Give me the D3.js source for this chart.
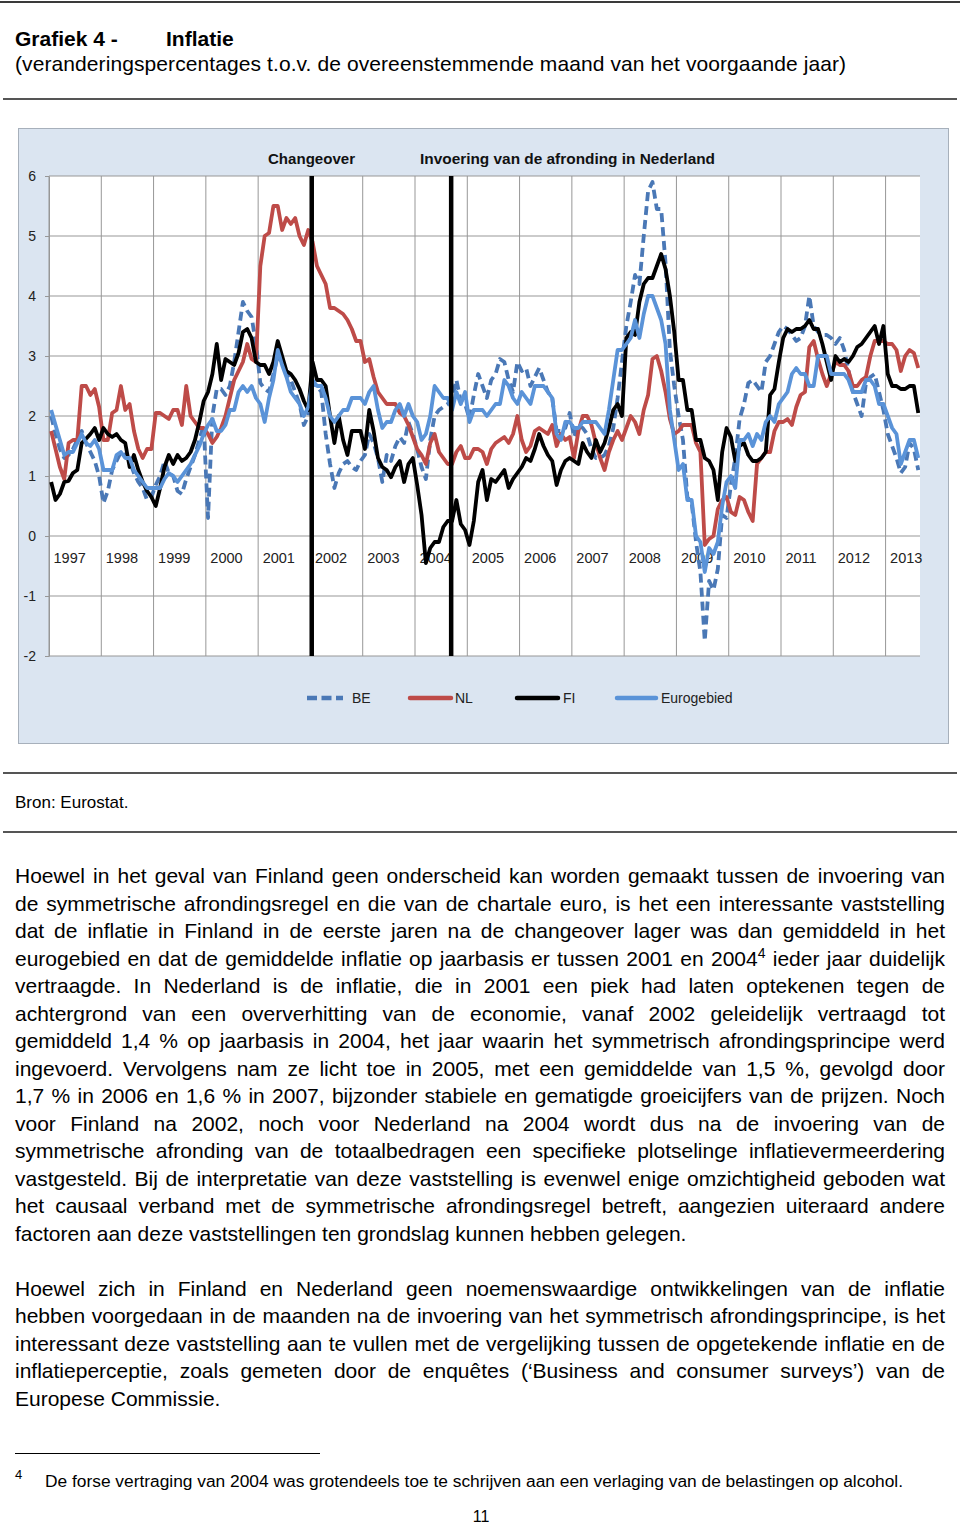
<!DOCTYPE html>
<html>
<head>
<meta charset="utf-8">
<script src="https://cdn.jsdelivr.net/npm/d3@7"></script>
<style>
  html, body { margin: 0; padding: 0; background: #fff; }
  svg { display: block; font-family: "Liberation Sans", Arial, sans-serif; }
</style>
</head>
<body>
<div id="page"></div>
<script>
/* ═══ Grafiek 4 — Inflatie (BE, NL, FI, eurogebied), maandcijfers jan 1997 – aug 2013 ═══ */

const startYear = 1997;
const yearLabels = ['1997','1998','1999','2000','2001','2002','2003','2004','2005',
                    '2006','2007','2008','2009','2010','2011','2012','2013'];
const yTicks = [-2, -1, 0, 1, 2, 3, 4, 5, 6];

// jaar-op-jaar veranderingspercentages, één rij per jaar
const be = [
  2.0, 1.7, 1.45, 1.3, 1.35, 1.45, 1.6, 1.75, 1.55, 1.4, 1.25, 1.0,
  0.55, 0.75, 1.1, 1.25, 1.4, 1.35, 1.25, 1.05, 0.9, 0.8, 0.6, 0.65,
  0.85, 1.0, 1.25, 1.05, 1.0, 0.75, 0.7, 0.95, 1.15, 1.35, 1.6, 1.85,
  0.3, 2.0, 2.45, 2.45, 2.35, 2.5, 2.9, 3.4, 3.9, 3.75, 3.65, 3.2,
  2.55, 2.45, 2.4, 2.7, 3.0, 2.9, 2.7, 2.6, 2.4, 2.2, 1.85, 2.0,
  2.55, 2.5, 2.4, 1.7, 1.2, 0.8, 1.05, 1.2, 1.25, 1.15, 1.1, 1.25,
  1.35, 1.7, 1.55, 1.3, 0.9, 1.35, 1.25, 1.5, 1.65, 1.55, 1.9, 1.7,
  1.45, 1.15, 0.95, 1.6, 2.0, 2.1, 2.15, 2.2, 2.3, 2.6, 2.25, 2.2,
  1.95, 2.35, 2.7, 2.5, 2.3, 2.6, 2.7, 2.95, 2.9, 2.6, 2.4, 2.9,
  2.75, 2.8, 2.5, 2.65, 2.8, 2.6, 2.4, 2.3, 1.75, 1.75, 1.8, 2.05,
  1.65, 1.85, 1.8, 1.7, 1.45, 1.3, 1.3, 1.35, 1.5, 1.8, 2.3, 2.9,
  3.5, 3.9, 4.35, 4.2, 5.0, 5.75, 5.9, 5.45, 5.45, 4.55, 3.1, 2.5,
  2.0, 1.6, 0.65, 0.55, -0.1, -0.6, -1.75, -0.75, -0.9, -0.55, 0.35, 0.3,
  0.85, 1.3, 1.95, 2.2, 2.55, 2.6, 2.5, 2.4, 2.9, 3.0, 3.2, 3.4,
  3.5, 3.45, 3.35, 3.25, 3.3, 3.5, 4.0, 3.5, 3.4, 3.35, 3.35, 3.3,
  3.2, 3.3, 3.1, 2.75, 2.4, 2.2, 2.0, 2.55, 2.65, 2.7, 2.4, 2.1,
  1.7, 1.5, 1.3, 1.05, 1.15, 1.55, 1.45, 1.1
];

const nl = [
  1.75, 1.45, 1.15, 0.95, 1.55, 1.6, 1.6, 2.5, 2.5, 2.35, 2.45, 2.15,
  1.6, 1.6, 2.05, 2.1, 2.5, 2.1, 2.2, 1.75, 1.45, 1.3, 1.45, 1.45,
  2.05, 2.05, 2.0, 1.95, 2.1, 2.1, 1.85, 2.5, 2.0, 1.9, 1.8, 1.8,
  1.7, 1.55, 1.65, 1.8, 2.0, 2.3, 2.6, 2.75, 2.9, 3.2, 2.95, 2.9,
  4.5, 5.0, 5.05, 5.5, 5.5, 5.1, 5.3, 5.2, 5.3, 5.0, 4.85, 5.1,
  4.9, 4.5, 4.35, 4.2, 3.8, 3.8, 3.75, 3.7, 3.6, 3.45, 3.25, 3.25,
  2.9, 2.95, 2.65, 2.4, 2.3, 2.2, 2.2, 2.2, 2.05, 2.0, 1.85, 1.65,
  1.45, 1.35, 1.2, 1.55, 1.7, 1.4, 1.3, 1.2, 1.2, 1.4, 1.5, 1.3,
  1.3, 1.45, 1.45, 1.4, 1.2, 1.45, 1.55, 1.6, 1.65, 1.55, 1.7, 2.0,
  1.6, 1.4, 1.5, 1.75, 1.8, 1.75, 1.7, 1.85, 1.5, 1.7, 1.6, 1.65,
  1.3, 1.75, 2.0, 2.0, 1.85, 1.55, 1.3, 1.1, 1.4, 1.6, 1.75, 1.6,
  1.8, 2.0, 1.9, 1.7, 2.1, 2.35, 2.95, 3.0, 2.75, 2.4, 1.95, 1.7,
  1.75, 1.85, 1.85, 1.85, 1.55, 1.4, -0.15, -0.05, 0.0, 0.45, 0.6, 0.65,
  0.4, 0.35, 0.65, 0.6, 0.4, 0.25, 1.2, 1.3, 1.4, 1.4, 1.75, 1.9,
  1.9, 1.95, 1.85, 2.15, 2.35, 2.4, 3.15, 3.25, 2.95, 2.7, 2.5, 2.7,
  2.9, 2.85, 2.85, 2.75, 2.5, 2.5, 2.6, 2.65, 3.0, 3.25, 3.25, 3.25,
  3.2, 3.2, 3.1, 2.75, 3.0, 3.1, 3.05, 2.8
];

const fi = [
  0.9, 0.6, 0.7, 0.9, 0.92, 1.05, 1.1, 1.55, 1.62, 1.7, 1.8, 1.6,
  1.8, 1.7, 1.65, 1.7, 1.6, 1.55, 1.15, 1.35, 1.1, 0.9, 0.75, 0.65,
  0.5, 0.8, 1.15, 1.35, 1.2, 1.35, 1.25, 1.3, 1.4, 1.6, 1.9, 2.25,
  2.4, 2.7, 3.2, 2.6, 2.95, 2.9, 2.85, 3.05, 3.4, 3.45, 3.3, 2.9,
  2.85, 2.85, 2.7, 2.9, 3.25, 3.0, 2.75, 2.7, 2.6, 2.45, 2.25, 2.1,
  2.9, 2.6, 2.6, 2.5, 2.0, 1.55, 2.0, 1.6, 1.35, 1.75, 1.75, 1.75,
  1.45, 2.1, 1.75, 1.3, 1.15, 1.1, 0.98, 1.15, 1.25, 0.9, 1.2, 1.3,
  0.85, 0.35, -0.45, -0.2, -0.1, -0.1, 0.15, 0.25, 0.25, 0.6, 0.2, 0.1,
  -0.15, 0.25, 0.9, 1.1, 0.6, 0.95, 0.9, 1.0, 1.1, 0.8, 0.95, 1.05,
  1.15, 1.3, 1.25, 1.45, 1.7, 1.5, 1.35, 1.25, 0.85, 1.1, 1.25, 1.3,
  1.25, 1.2, 1.55, 1.4, 1.3, 1.6, 1.4, 1.55, 1.8, 2.1, 2.2, 2.0,
  3.3, 3.4, 3.35, 3.9, 4.2, 4.3, 4.3, 4.5, 4.7, 4.45, 4.0, 3.4,
  2.6, 2.6, 2.1, 2.1, 1.6, 1.6, 1.3, 1.25, 1.1, 0.6, 1.4, 1.8,
  1.65, 1.25, 1.5, 1.55, 1.35, 1.25, 1.25, 1.3, 1.4, 2.35, 2.45, 2.9,
  3.3, 3.45, 3.4, 3.45, 3.45, 3.5, 3.6, 3.45, 3.45, 3.2, 2.9, 2.6,
  3.0, 2.9, 2.95, 2.9, 3.0, 3.15, 3.2, 3.3, 3.4, 3.5, 3.2, 3.5,
  2.7, 2.5, 2.5, 2.45, 2.45, 2.5, 2.5, 2.05
];

const ea = [
  2.1, 1.85, 1.6, 1.35, 1.4, 1.4, 1.55, 1.7, 1.55, 1.5, 1.6, 1.45,
  1.1, 1.1, 1.1, 1.35, 1.4, 1.3, 1.3, 1.1, 1.0, 0.9, 0.8, 0.8,
  0.8, 0.8, 0.95, 1.05, 1.0, 0.9, 1.0, 1.1, 1.2, 1.35, 1.5, 1.7,
  1.85, 1.95, 1.75, 1.75, 1.85, 2.1, 2.1, 2.4, 2.5, 2.4, 2.5, 2.3,
  2.2, 1.9, 2.3, 2.6, 3.1, 2.85, 2.65, 2.4, 2.3, 2.2, 2.0, 2.15,
  2.6, 2.5, 2.5, 2.3, 2.0, 1.9, 2.0, 2.1, 2.1, 2.3, 2.3, 2.3,
  2.2, 2.4, 2.5, 2.1, 1.8, 1.9, 1.9, 2.1, 2.2, 2.0, 2.2, 2.0,
  1.9, 1.6, 1.7, 2.0, 2.5, 2.4, 2.3, 2.3, 2.1, 2.4, 2.2, 2.4,
  1.9, 2.1, 2.1, 2.1, 2.0, 2.1, 2.2, 2.2, 2.6, 2.5, 2.3, 2.2,
  2.4, 2.3, 2.2, 2.5, 2.5, 2.5, 2.4, 2.3, 1.7, 1.6, 1.9, 1.9,
  1.8, 1.8, 1.9, 1.9, 1.9, 1.9, 1.8, 1.7, 2.1, 2.6, 3.1, 3.1,
  3.2, 3.3, 3.6, 3.3, 3.7, 4.0, 4.0, 3.8, 3.6, 3.2, 2.1, 1.6,
  1.1, 1.2, 0.6, 0.6, 0.0, -0.1, -0.6, -0.2, -0.3, -0.1, 0.5, 0.9,
  1.0, 0.8, 1.6, 1.6, 1.7, 1.5, 1.7, 1.6, 1.9, 2.0, 1.9, 2.2,
  2.3, 2.4, 2.7, 2.8, 2.7, 2.7, 2.5, 2.5, 3.0, 3.0, 3.0, 2.7,
  2.7, 2.7, 2.7, 2.6, 2.4, 2.4, 2.4, 2.6, 2.6, 2.5, 2.2, 2.2,
  2.0, 1.8, 1.7, 1.2, 1.4, 1.6, 1.6, 1.3
];

// gebeurtenissen (jaar, maand 0-11)
const eventNames = ['Changeover', 'Invoering van de afronding in Nederland'];
const eventDates = [[2002, 0], [2004, 8]];

const seriesNames = ['BE', 'NL', 'FI', 'Eurogebied'];
const seriesValues = [be, nl, fi, ea];

const FONT = '"Liberation Sans", Arial, sans-serif';
const STYLE = {
  BE:         { color: '#4a78b6', dash: '9,5', width: 3.8 },
  NL:         { color: '#be4b48', dash: null,  width: 3.8 },
  FI:         { color: '#000000', dash: null,  width: 3.8 },
  Eurogebied: { color: '#5a93d8', dash: null,  width: 3.8 }
};

const svg = d3.select('#page').append('svg')
  .attr('width', 960).attr('height', 1525)
  .style('background', '#fff');

function rule(y, x1, x2, w, c) {
  svg.append('line')
    .attr('x1', x1).attr('x2', x2).attr('y1', y).attr('y2', y)
    .attr('stroke', c).attr('stroke-width', w);
}

// ── Kop ──
rule(2, 0, 960, 2, '#3a3a3a');
svg.append('text').attr('x', 15).attr('y', 46)
  .attr('font-size', 21).attr('font-weight', 'bold').text('Grafiek 4 -');
svg.append('text').attr('x', 166).attr('y', 46)
  .attr('font-size', 21).attr('font-weight', 'bold').text('Inflatie');
svg.append('text').attr('x', 15).attr('y', 71).attr('font-size', 21)
  .attr('textLength', 831).attr('lengthAdjust', 'spacing')
  .text('(veranderingspercentages t.o.v. de overeenstemmende maand van het voorgaande jaar)');
rule(99, 3, 957, 2, '#555');

// ── Grafiekkader ──
svg.append('rect')
  .attr('x', 18.5).attr('y', 128.5).attr('width', 930).attr('height', 615)
  .attr('fill', '#dbe5f1').attr('stroke', '#a7b0bb').attr('stroke-width', 1);

const P = { left: 49, right: 920, top: 176, bottom: 656 };
const x = d3.scaleLinear().domain([0, 199.9]).range([P.left, P.right]);
const y = d3.scaleLinear().domain([-2, 6]).range([P.bottom, P.top]);

const g = svg.append('g');
g.append('rect')
  .attr('x', P.left).attr('y', P.top)
  .attr('width', P.right - P.left).attr('height', P.bottom - P.top)
  .attr('fill', '#fff');

// rasterlijnen
const GRID = '#979797';
g.append('g').selectAll('line').data(yTicks).join('line')
  .attr('x1', P.left).attr('x2', P.right)
  .attr('y1', d => y(d)).attr('y2', d => y(d))
  .attr('stroke', GRID).attr('stroke-width', 1);
g.append('g').selectAll('line').data(yearLabels).join('line')
  .attr('x1', (d, i) => x(i * 12)).attr('x2', (d, i) => x(i * 12))
  .attr('y1', P.top).attr('y2', P.bottom)
  .attr('stroke', GRID).attr('stroke-width', 1);

// y-as
const yAxis = g.append('g')
  .attr('transform', `translate(${P.left},0)`)
  .call(d3.axisLeft(y).tickValues(yTicks).tickFormat(d => String(d))
    .tickSize(4).tickPadding(9).tickSizeOuter(0))
  .attr('font-family', FONT).attr('font-size', 14);
yAxis.select('.domain').attr('stroke', GRID);
yAxis.selectAll('.tick line').attr('stroke', GRID);
yAxis.selectAll('.tick text').attr('fill', '#222');

// x-as: jaartallen binnen het plotvlak, onder de nullijn
const xAxis = g.append('g')
  .attr('transform', `translate(0,${y(0)})`)
  .call(d3.axisBottom(x).tickValues(yearLabels.map((d, i) => i * 12))
    .tickFormat((d, i) => yearLabels[i]).tickSize(0))
  .attr('font-family', FONT).attr('font-size', 14.5);
xAxis.select('.domain').remove();
xAxis.selectAll('.tick text')
  .attr('text-anchor', 'start').attr('x', 4).attr('y', 17).attr('dy', '0.71em')
  .attr('fill', '#222');

// reeksen
svg.append('clipPath').attr('id', 'plotClip')
  .append('rect')
  .attr('x', P.left).attr('y', P.top - 10)
  .attr('width', P.right - P.left).attr('height', P.bottom - P.top + 20);

const line = d3.line()
  .x((d, i) => x(i + 0.5))
  .y(d => y(d));

const series = seriesNames.map((name, k) => ({ name, values: seriesValues[k], ...STYLE[name] }));

g.append('g').attr('clip-path', 'url(#plotClip)')
  .selectAll('path').data(series).join('path')
  .attr('fill', 'none')
  .attr('stroke', d => d.color)
  .attr('stroke-width', d => d.width)
  .attr('stroke-dasharray', d => d.dash)
  .attr('stroke-linejoin', 'round')
  .attr('d', d => line(d.values));

// verticale gebeurtenislijnen
const eventIdx = eventDates.map(([yr, m]) => (yr - startYear) * 12 + m + 0.3);
g.append('g').selectAll('line').data(eventIdx).join('line')
  .attr('x1', d => x(d)).attr('x2', d => x(d))
  .attr('y1', P.top).attr('y2', P.bottom)
  .attr('stroke', '#000').attr('stroke-width', 4.5);

const eventLabelX = [268, 420];
const eventLabelW = [87, 295];
g.append('g').selectAll('text').data(eventNames).join('text')
  .attr('x', (d, i) => eventLabelX[i]).attr('y', 164)
  .attr('font-size', 14).attr('font-weight', 'bold').attr('fill', '#111')
  .attr('textLength', (d, i) => eventLabelW[i]).attr('lengthAdjust', 'spacingAndGlyphs')
  .text(d => d);

// legenda
const legLineX = [305, 408, 515, 615];
const legLineW = [40, 45, 45, 43];
const legTextX = [352, 455, 563, 661];
const leg = g.append('g').selectAll('g').data(series).join('g');
leg.append('line')
  .attr('x1', (d, i) => legLineX[i] + 2).attr('x2', (d, i) => legLineX[i] + legLineW[i] - 2)
  .attr('y1', 698).attr('y2', 698)
  .attr('stroke', d => d.color).attr('stroke-width', 4.5)
  .attr('stroke-linecap', d => d.dash ? 'butt' : 'round')
  .attr('stroke-dasharray', d => d.dash ? '10,4.5' : null);
leg.append('text')
  .attr('x', (d, i) => legTextX[i]).attr('y', 703)
  .attr('font-size', 14).attr('fill', '#222')
  .text(d => d.name);

// ── Bron ──
rule(773, 3, 957, 2, '#555');
svg.append('text').attr('x', 15).attr('y', 808).attr('font-size', 17).text('Bron: Eurostat.');
rule(832, 3, 957, 2, '#555');

// ── Tekst (uitgevulde regels) ──
const para1 = [
  'Hoewel in het geval van Finland geen onderscheid kan worden gemaakt tussen de invoering van',
  'de symmetrische afrondingsregel en die van de chartale euro, is het een interessante vaststelling',
  'dat de inflatie in Finland in de eerste jaren na de changeover lager was dan gemiddeld in het',
  'eurogebied en dat de gemiddelde inflatie op jaarbasis er tussen 2001 en 2004^4 ieder jaar duidelijk',
  'vertraagde. In Nederland is de inflatie, die in 2001 een piek had laten optekenen tegen de',
  'achtergrond van een oververhitting van de economie, vanaf 2002 geleidelijk vertraagd tot',
  'gemiddeld 1,4 % op jaarbasis in 2004, het jaar waarin het symmetrisch afrondingsprincipe werd',
  'ingevoerd. Vervolgens nam ze licht toe in 2005, met een gemiddelde van 1,5 %, gevolgd door',
  '1,7 % in 2006 en 1,6 % in 2007, bijzonder stabiele en gematigde groeicijfers van de prijzen. Noch',
  'voor Finland na 2002, noch voor Nederland na 2004 wordt dus na de invoering van de',
  'symmetrische afronding van de totaalbedragen een specifieke plotselinge inflatievermeerdering',
  'vastgesteld. Bij de interpretatie van deze vaststelling is evenwel enige omzichtigheid geboden wat',
  'het causaal verband met de symmetrische afrondingsregel betreft, aangezien uiteraard andere',
  'factoren aan deze vaststellingen ten grondslag kunnen hebben gelegen.'
];
const para2 = [
  'Hoewel zich in Finland en Nederland geen noemenswaardige ontwikkelingen van de inflatie',
  'hebben voorgedaan in de maanden na de invoering van het symmetrisch afrondingsprincipe, is het',
  'interessant deze vaststelling aan te vullen met de vergelijking tussen de opgetekende inflatie en de',
  'inflatieperceptie, zoals gemeten door de enquêtes (‘Business and consumer surveys’) van de',
  'Europese Commissie.'
];

const body = svg.append('g').attr('font-size', 21).attr('fill', '#000');
function textLine(str, y0, justify) {
  const words = str.split(' ');
  const nodes = words.map(w => {
    const t = body.append('text').attr('y', y0);
    const [main, sup] = w.split('^');
    t.append('tspan').text(main);
    if (sup) t.append('tspan').attr('font-size', 14).attr('dy', -8).text(sup);
    return t;
  });
  const widths = nodes.map(t => t.node().getComputedTextLength());
  const total = d3.sum(widths);
  const gap = justify && words.length > 1 ? (930 - total) / (words.length - 1) : 21 * 0.278;
  let cx = 15;
  nodes.forEach((t, i) => { t.attr('x', cx); cx += widths[i] + gap; });
}
para1.forEach((s, i) => textLine(s, 883 + i * 27.5, i < para1.length - 1));
para2.forEach((s, i) => textLine(s, 883 + (i + 15) * 27.5, i < para2.length - 1));

// ── Voetnoot ──
rule(1453.5, 15, 320, 1, '#000');
svg.append('text').attr('x', 15).attr('y', 1479).attr('font-size', 13).text('4');
svg.append('text').attr('x', 45).attr('y', 1487).attr('font-size', 16)
  .attr('textLength', 858).attr('lengthAdjust', 'spacingAndGlyphs')
  .text('De forse vertraging van 2004 was grotendeels toe te schrijven aan een verlaging van de belastingen op alcohol.');
svg.append('text').attr('x', 481).attr('y', 1522).attr('font-size', 16)
  .attr('text-anchor', 'middle').text('11');
</script>
</body>
</html>
